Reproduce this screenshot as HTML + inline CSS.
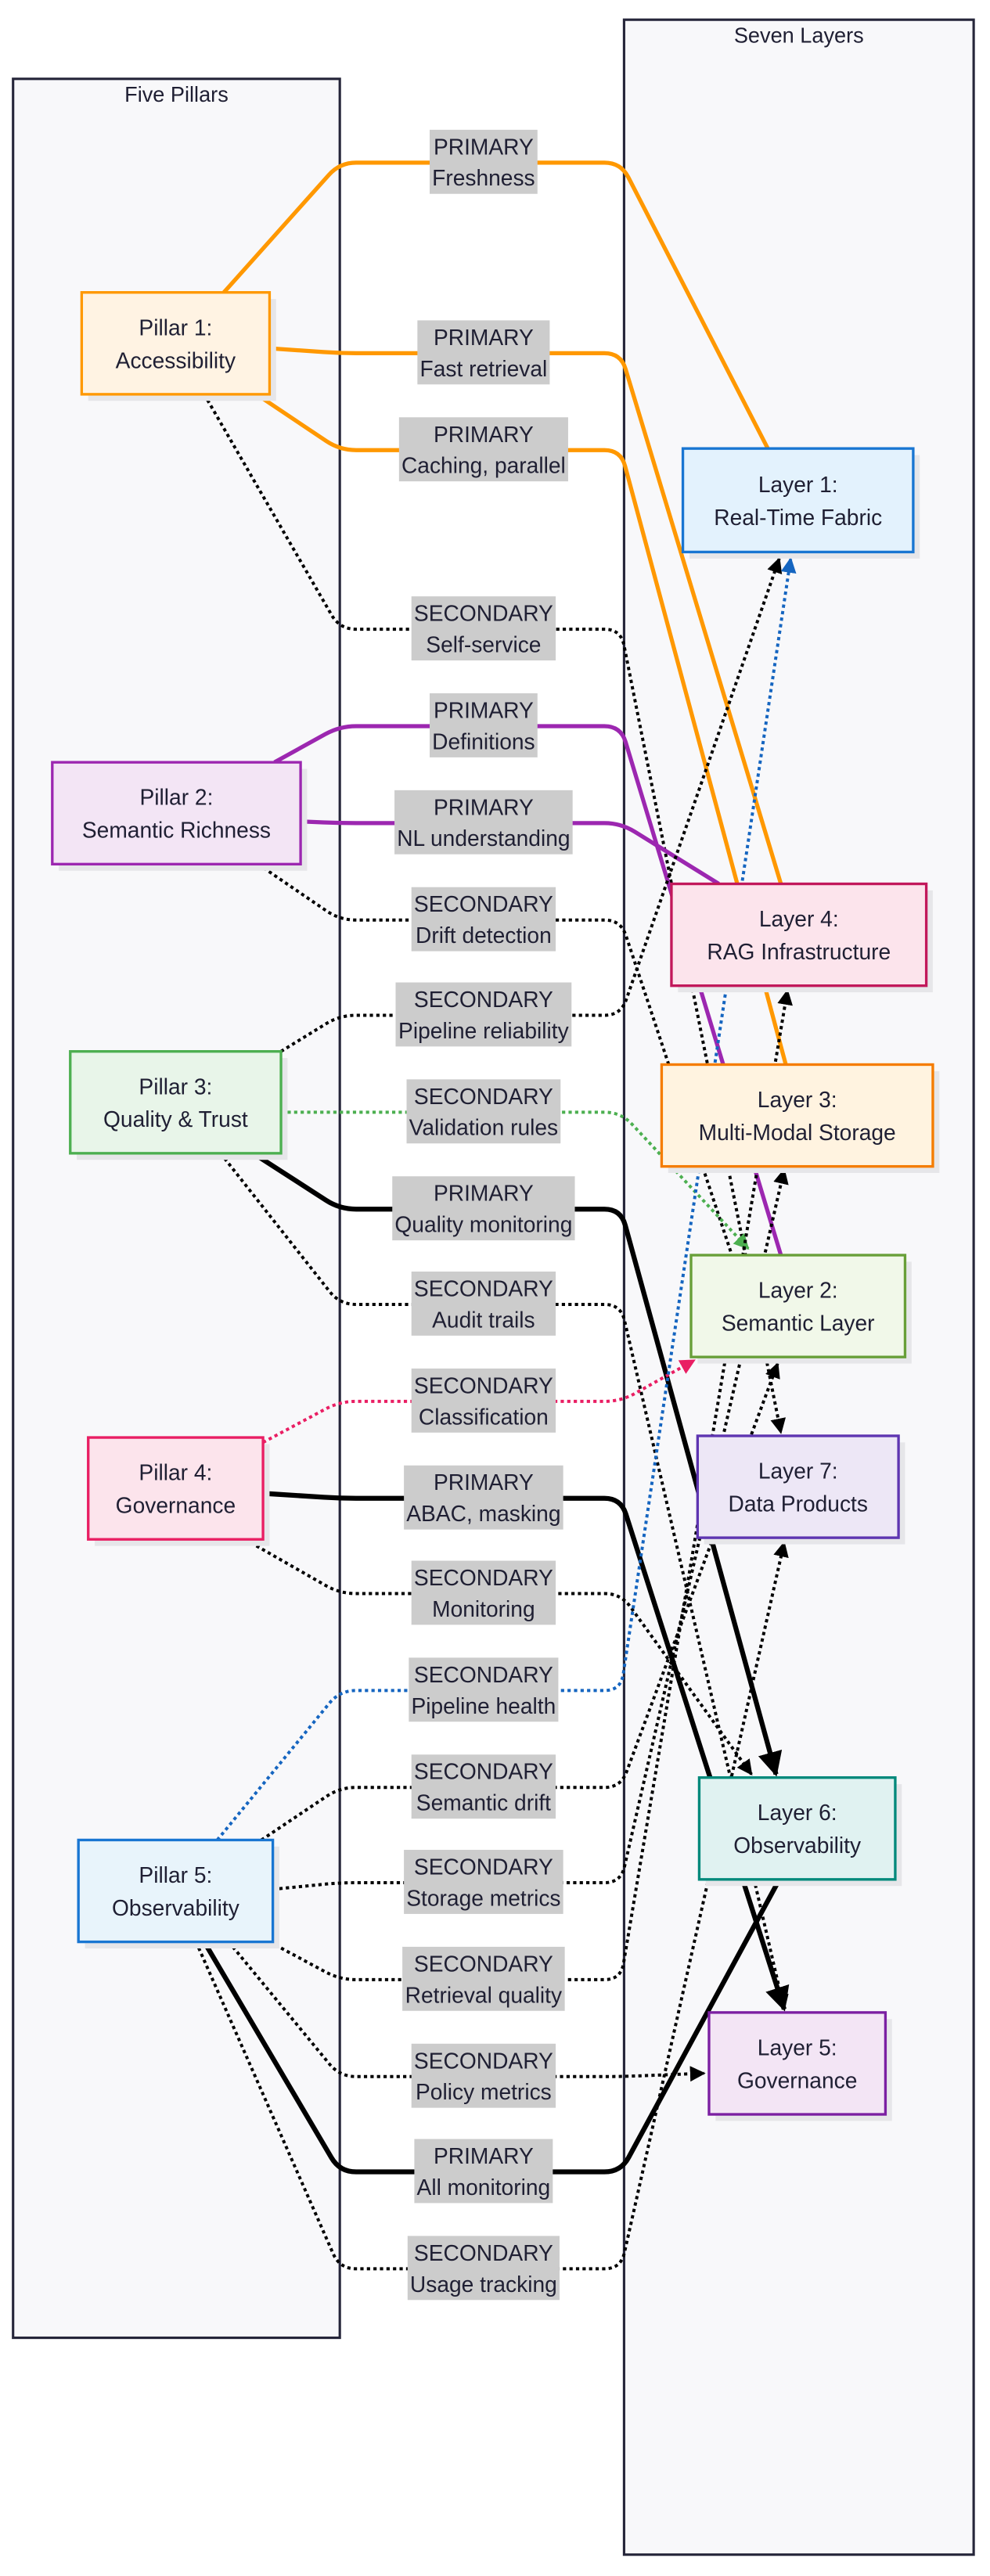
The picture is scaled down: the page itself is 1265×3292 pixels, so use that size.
<!DOCTYPE html>
<html><head><meta charset="utf-8">
<style>
html,body{margin:0;padding:0;background:#fff;}
svg{display:block;}
text{font-family:"Liberation Sans",sans-serif;fill:#1f1f33;}
</style></head>
<body>
<svg id="diag" width="1265" height="3292" viewBox="0 0 606 1568" preserveAspectRatio="none" xmlns="http://www.w3.org/2000/svg">
<defs>
<marker id="m-black" viewBox="0 0 10 10" refX="9" refY="5" markerWidth="5" markerHeight="5" orient="auto-start-reverse"><path d="M0,0L10,5L0,10z" fill="#000"/></marker>
<marker id="m-green" viewBox="0 0 10 10" refX="9" refY="5" markerWidth="5" markerHeight="5" orient="auto"><path d="M0,0L10,5L0,10z" fill="#4caf50"/></marker>
<marker id="m-pink" viewBox="0 0 10 10" refX="9" refY="5" markerWidth="5" markerHeight="5" orient="auto"><path d="M0,0L10,5L0,10z" fill="#e91e63"/></marker>
<marker id="m-blue" viewBox="0 0 10 10" refX="9" refY="5" markerWidth="5" markerHeight="5" orient="auto"><path d="M0,0L10,5L0,10z" fill="#1565c0"/></marker>
</defs>
<g>
<rect x="8" y="48" width="200" height="1375" fill="#f8f8fa" stroke="#26263a" stroke-width="1.5"/>
<text x="108" y="62" text-anchor="middle" font-size="13">Five Pillars</text>
</g>
<g>
<rect x="382" y="12" width="214" height="1543" fill="#f8f8fa" stroke="#26263a" stroke-width="1.5"/>
<text x="489" y="26" text-anchor="middle" font-size="13">Seven Layers</text>
</g>
<g id="edges"></g>
<g id="labels"></g>
<g id="nodes"></g>
</svg>
<script>
const NS="http://www.w3.org/2000/svg";
const pillarNames=["Pillar 1:|Accessibility","Pillar 2:|Semantic Richness","Pillar 3:|Quality & Trust","Pillar 4:|Governance","Pillar 5:|Observability"];
const pillarBoxes=[[50,178,115,62],[32,464,152,62],[43,640,129,62],[54,875,107,62],[48,1120,119,62]];
const pillarColors=[["#fff3e3","#ff9800"],["#f3e5f5","#9c27b0"],["#e8f5e9","#4caf50"],["#fce4ec","#e91e63"],["#e8f4fb","#1976d2"]];
const layerNames=["Layer 1:|Real-Time Fabric","Layer 4:|RAG Infrastructure","Layer 3:|Multi-Modal Storage","Layer 2:|Semantic Layer","Layer 7:|Data Products","Layer 6:|Observability","Layer 5:|Governance"];
const layerBoxes=[[418,273,141,63],[411,538,156,62],[405,648,166,62],[423,764,131,62],[427,874,123,62],[428,1082,120,62],[434,1225,108,62]];
const layerColors=[["#e3f2fd","#1976d2"],["#fce4ec","#c2185b"],["#fff3e0","#f57c00"],["#f1f8e9","#689f38"],["#ede7f6","#5e35b1"],["#e0f2f1","#00897b"],["#f3e5f5","#7b1fa2"]];
const edgeKinds=["PRIMARY","PRIMARY","PRIMARY","SECONDARY","PRIMARY","PRIMARY","SECONDARY","SECONDARY","SECONDARY","PRIMARY","SECONDARY","SECONDARY","PRIMARY","SECONDARY","SECONDARY","SECONDARY","SECONDARY","SECONDARY","SECONDARY","PRIMARY","SECONDARY"];
const edgeTexts=["Freshness","Fast retrieval","Caching, parallel","Self-service","Definitions","NL understanding","Drift detection","Pipeline reliability","Validation rules","Quality monitoring","Audit trails","Classification","ABAC, masking","Monitoring","Pipeline health","Semantic drift","Storage metrics","Retrieval quality","Policy metrics","All monitoring","Usage tracking"];
const edgeY=[99,215,274,383,442,501,560,618,677,736,794,853,912,970,1029,1088,1146,1205,1264,1322,1381];
const edgeStart=[[137,178],[165,212],[157,240],[125,240],[168,464],[184,500],[158,526],[172,640],[172,677],[155,702],[135,702],[161,878],[161,909],[150,937],[133,1120],[160,1120],[167,1150],[165,1182],[140,1182],[125,1182],[120,1182]];
const edgeEnd=[[470,273],[478,538],[481,648],[478,872],[478,764],[440,538],[470,830],[477,340],[458,760],[475,1080],[480,1223],[425,828],[480,1223],[460,1080],[484,340],[476,830],[480,712],[482,603],[431,1262],[476,1146],[480,939]];
const edgeColor=["#ff9800","#ff9800","#ff9800","#000","#9c27b0","#9c27b0","#000","#000","#4caf50","#000","#000","#e91e63","#000","#000","#1565c0","#000","#000","#000","#000","#000","#000"];
const edgeMarker=["","","","black","","","black","black","green","black","black","pink","black","black","blue","black","black","black","black","","black"];

const gE=document.getElementById('edges'),gL=document.getElementById('labels'),gN=document.getElementById('nodes');
function el(tag,attrs,parent){const e=document.createElementNS(NS,tag);for(const k in attrs)e.setAttribute(k,attrs[k]);parent.appendChild(e);return e;}
function unit(ax,ay,bx,by){const dx=bx-ax,dy=by-ay,l=Math.hypot(dx,dy)||1;return [dx/l,dy/l];}
function node(name,box,col,parent,dname){
  const g=el('g',{},parent);
  
  
  el('rect',{x:box[0]+4,y:box[1]+4,width:box[2],height:box[3],fill:"#e6e6e9"},g);
  el('rect',{x:box[0],y:box[1],width:box[2],height:box[3],fill:col[0],stroke:col[1],'stroke-width':1.6},g);
  const parts=name.split('|');const cx=box[0]+box[2]/2,cy=box[1]+box[3]/2;
  el('text',{x:cx,y:cy-5,'text-anchor':'middle','font-size':13.5},g).textContent=parts[0];
  el('text',{x:cx,y:cy+15,'text-anchor':'middle','font-size':13.5},g).textContent=parts[1];
}
for(let i=0;i<edgeTexts.length;i++){
  const cy=edgeY[i],[sx,sy]=edgeStart[i],[tx,ty]=edgeEnd[i];
  const r=10;
  const u1=unit(208,cy,sx,sy),u2=unit(380,cy,tx,ty);
  const d=`M${sx},${sy} L${208+u1[0]*r},${cy+u1[1]*r} Q208,${cy} ${208+r},${cy} L${380-r},${cy} Q380,${cy} ${380+u2[0]*r},${cy+u2[1]*r} L${tx},${ty}`;
  const solid=edgeKinds[i]==="PRIMARY";
  const w=solid?(edgeColor[i]==="#000"?3:2.5):1.9;
  const p=el('path',{d:d,fill:'none',stroke:edgeColor[i],'stroke-width':w},gE);
  if(!solid)p.setAttribute('stroke-dasharray','2 2');
  if(edgeMarker[i])p.setAttribute('marker-end','url(#m-'+edgeMarker[i]+')');
  
  
  const g=el('g',{},gL);
  
  
  const bg=el('rect',{fill:'#cccccc'},g);
  const t1=el('text',{x:296,y:cy-5,'text-anchor':'middle','font-size':13.5},g);t1.textContent=edgeKinds[i];
  const t2=el('text',{x:296,y:cy+14,'text-anchor':'middle','font-size':13.5},g);t2.textContent=edgeTexts[i];
  const bw=Math.max(t1.getBBox().width,t2.getBBox().width)+3;
  bg.setAttribute('x',296-bw/2);bg.setAttribute('y',cy-20);bg.setAttribute('width',bw);bg.setAttribute('height',39);
}
for(let i=0;i<pillarNames.length;i++)node(pillarNames[i],pillarBoxes[i],pillarColors[i],gN,'pillar-'+(i+1));
for(let i=0;i<layerNames.length;i++)node(layerNames[i],layerBoxes[i],layerColors[i],gN,'layer-'+layerNames[i].match(/\d/)[0]);
</script>
</body></html>
